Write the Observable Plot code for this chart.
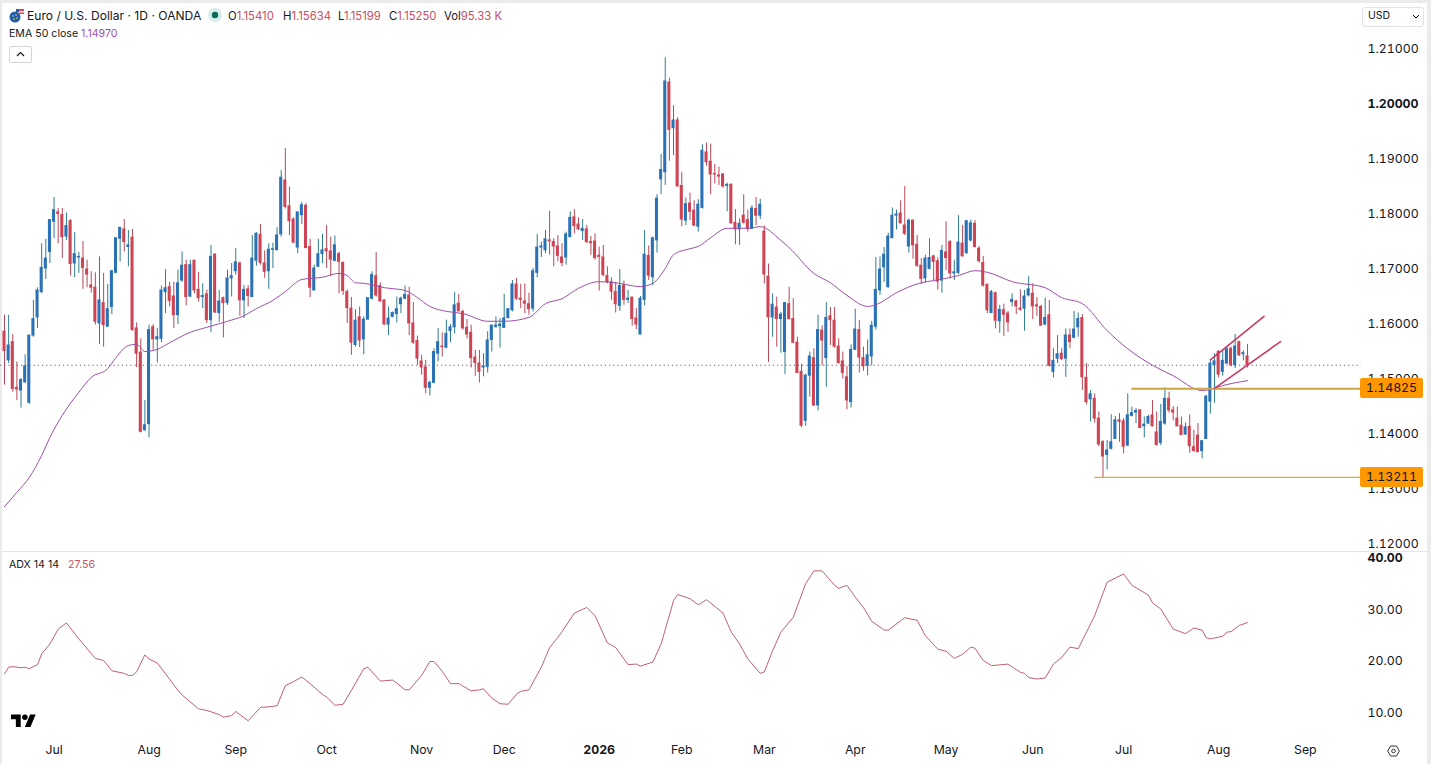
<!DOCTYPE html>
<html><head><meta charset="utf-8">
<script src="https://cdn.jsdelivr.net/npm/d3@7"></script>
<script src="https://cdn.jsdelivr.net/npm/@observablehq/plot@0.6"></script>
<style>
html,body{margin:0;padding:0;background:#ebebeb;width:1431px;height:764px;overflow:hidden;font-family:Inter,"Liberation Sans",sans-serif;color:#131722}
#sheet{position:absolute;left:2px;top:3px;width:1425px;height:761px;background:#fff}
#top,#bottom{position:absolute;left:0}
#top{top:0}#bottom{top:551px}
svg{display:block}
.t{position:absolute;white-space:nowrap;line-height:1}
.r{color:#c8505f}
.badge{position:absolute;left:1360px;width:63px;height:20px;background:#ff9800;border-radius:2px;color:#131722;font-size:12.3px;font-variant-numeric:tabular-nums;line-height:20px;text-align:center}
#sep{position:absolute;left:2px;top:551px;width:1425px;height:1px;background:#e0e3eb}
</style></head><body>
<div id="sheet"></div>
<div id="top"></div><div id="bottom"></div><div id="sep"></div>

<svg style="position:absolute;left:9px;top:8px" width="15" height="15" viewBox="0 0 15 15"><circle cx="6" cy="9" r="5.5" fill="#1f5fa8"/><circle cx="4" cy="8" r=".8" fill="#ffd24a"/><circle cx="7" cy="7" r=".8" fill="#ffd24a"/><circle cx="8" cy="10" r=".8" fill="#ffd24a"/><circle cx="5" cy="11" r=".8" fill="#ffd24a"/><rect x="9" y="1" width="6" height="2" fill="#d8485a"/><rect x="9" y="3" width="6" height="1.5" fill="#e8e8f0"/><rect x="9" y="4.5" width="6" height="1.5" fill="#d8485a"/><rect x="7" y="1" width="3" height="3" fill="#2a5aa8"/></svg>
<div class="t" style="left:27px;top:10px;font-size:12.1px">Euro / U.S. Dollar · 1D · OANDA</div>
<svg style="position:absolute;left:208px;top:8px" width="14" height="14"><circle cx="7" cy="7" r="7" fill="#d5efe9"/><circle cx="7" cy="7" r="3.2" fill="#0b6b5a"/></svg>
<div class="t" style="left:228px;top:11px;font-size:11.3px">O<span class="r">1.15410</span></div>
<div class="t" style="left:283px;top:11px;font-size:11.3px">H<span class="r">1.15634</span></div>
<div class="t" style="left:338px;top:11px;font-size:11.3px">L<span class="r">1.15199</span></div>
<div class="t" style="left:389px;top:11px;font-size:11.3px">C<span class="r">1.15250</span></div>
<div class="t" style="left:444px;top:11px;font-size:11.3px">Vol<span class="r">95.33 K</span></div>
<div class="t" style="left:9px;top:29px;font-size:10.6px">EMA 50 close</div>
<div class="t" style="left:81px;top:29px;font-size:10.6px;color:#9c4fb0">1.14970</div>
<div style="position:absolute;left:9px;top:46px;width:21px;height:15px;border:1px solid #d1d4dc;border-radius:2px"></div>
<svg style="position:absolute;left:16px;top:51px" width="9" height="6"><path d="M1 5 L4.5 1.5 L8 5" fill="none" stroke="#131722" stroke-width="1.2"/></svg>
<div style="position:absolute;left:1362px;top:7px;width:60px;height:18px;border:1px solid #e0e3eb;border-radius:3px"></div>
<div class="t" style="left:1368px;top:11px;font-size:10.5px">USD</div>
<svg style="position:absolute;left:1412px;top:14px" width="8" height="6"><path d="M1 1 L4 4 L7 1" fill="none" stroke="#131722" stroke-width="1"/></svg>
<div class="t" style="left:9px;top:560px;font-size:10.6px">ADX 14 14</div>
<div class="t" style="left:68px;top:560px;font-size:10.6px;color:#c8505f">27.56</div>
<svg style="position:absolute;left:11px;top:713px" width="25" height="14" viewBox="0 0 36 20"><path d="M14 20H7V9H0V2h14v18zM28 20h-8l7.5-18h8L28 20z" fill="#000"/><circle cx="20" cy="6" r="4" fill="#000"/></svg>
<svg style="position:absolute;left:1387px;top:745px" width="13" height="12" viewBox="0 0 13 12"><path d="M3.5 1H9.5L12.3 6L9.5 11H3.5L.7 6Z" fill="none" stroke="#333" stroke-width="1"/><circle cx="6.5" cy="6" r="1.8" fill="none" stroke="#333"/></svg>

<script>
const opens=[1.1586,1.1534,1.1567,1.1484,1.1479,1.1494,1.1457,1.1579,1.1612,1.1658,
1.1701,1.1731,1.1786,1.1803,1.1798,1.1759,1.1787,1.1710,1.1721,1.1719,
1.1699,1.1670,1.1666,1.1601,1.1638,1.1595,1.1631,1.1693,1.1755,1.1772,
1.1740,1.1757,1.1592,1.1548,1.1407,1.1418,1.1594,1.1572,1.1573,1.1658,
1.1667,1.1650,1.1616,1.1679,1.1707,1.1650,1.1715,1.1662,1.1649,1.1654,
1.1607,1.1726,1.1620,1.1647,1.1638,1.1683,1.1696,1.1710,1.1643,1.1663,
1.1649,1.1715,1.1762,1.1710,1.1696,1.1735,1.1734,1.1763,1.1861,1.1814,
1.1790,1.1739,1.1798,1.1815,1.1740,1.1661,1.1704,1.1727,1.1736,1.1732,
1.1715,1.1727,1.1711,1.1658,1.1628,1.1562,1.1612,1.1572,1.1608,1.1646,
1.1687,1.1669,1.1643,1.1599,1.1613,1.1618,1.1636,1.1646,1.1652,1.1601,
1.1569,1.1532,1.1521,1.1484,1.1493,1.1546,1.1559,1.1557,1.1587,1.1594,
1.1637,1.1622,1.1593,1.1584,1.1539,1.1528,1.1521,1.1522,1.1571,1.1595,
1.1596,1.1593,1.1611,1.1625,1.1672,1.1646,1.1641,1.1636,1.1628,1.1693,
1.1739,1.1734,1.1752,1.1749,1.1741,1.1721,1.1721,1.1758,1.1794,1.1781,
1.1769,1.1772,1.1749,1.1750,1.1724,1.1721,1.1687,1.1676,1.1658,1.1633,
1.1670,1.1644,1.1648,1.1610,1.1581,1.1644,1.1724,1.1685,1.1752,1.1863,
1.1876,1.2039,1.1956,1.1970,1.1851,1.1788,1.1819,1.1806,1.1777,1.1811,
1.1912,1.1895,1.1873,1.1870,1.1872,1.1851,1.1853,1.1784,1.1772,1.1797,
1.1789,1.1773,1.1809,1.1797,1.1768,1.1686,1.1612,1.1630,1.1609,1.1549,
1.1636,1.1609,1.1566,1.1513,1.1424,1.1506,1.1538,1.1452,1.1588,1.1538,
1.1614,1.1606,1.1559,1.1532,1.1503,1.1458,1.1553,1.1589,1.1538,1.1524,
1.1541,1.1595,1.1661,1.1703,1.1667,1.1756,1.1797,1.1801,1.1779,1.1741,
1.1788,1.1744,1.1706,1.1683,1.1700,1.1723,1.1714,1.1679,1.1730,1.1749,
1.1692,1.1693,1.1746,1.1729,1.1752,1.1782,1.1737,1.1711,1.1671,1.1620,
1.1656,1.1605,1.1625,1.1619,1.1640,1.1641,1.1628,1.1628,1.1652,1.1655,
1.1634,1.1631,1.1599,1.1616,1.1513,1.1537,1.1546,1.1537,1.1579,1.1575,
1.1594,1.1611,1.1502,1.1463,1.1464,1.1428,1.1385,1.1362,1.1373,1.1391,
1.1425,1.1423,1.1379,1.1433,1.1439,1.1443,1.1414,1.1419,1.1434,1.1403,
1.1384,1.1419,1.1464,1.1443,1.1428,1.1415,1.1399,1.1413,1.1376,1.1397,
1.1369,1.1391,1.1459,1.1525,1.1549,1.1513,1.1528,1.1555,1.1525,1.1567,1.1545,1.1541];
const closes=[1.1551,1.1561,1.1482,1.1481,1.1498,1.1523,1.1579,1.1609,1.1661,1.1702,
1.1719,1.1789,1.1807,1.1800,1.1758,1.1778,1.1709,1.1727,1.1722,1.1702,
1.1690,1.1666,1.1604,1.1643,1.1598,1.1627,1.1696,1.1756,1.1775,1.1749,
1.1743,1.1589,1.1546,1.1404,1.1416,1.1589,1.1572,1.1576,1.1661,1.1665,
1.1642,1.1616,1.1674,1.1706,1.1649,1.1707,1.1661,1.1647,1.1651,1.1607,
1.1722,1.1621,1.1641,1.1638,1.1683,1.1687,1.1712,1.1643,1.1662,1.1651,
1.1719,1.1764,1.1711,1.1695,1.1735,1.1736,1.1761,1.1866,1.1813,1.1787,
1.1748,1.1803,1.1816,1.1738,1.1666,1.1701,1.1727,1.1734,1.1732,1.1717,
1.1743,1.1713,1.1660,1.1629,1.1566,1.1606,1.1570,1.1608,1.1647,1.1689,
1.1652,1.1641,1.1599,1.1610,1.1620,1.1627,1.1646,1.1653,1.1601,1.1566,
1.1537,1.1521,1.1484,1.1493,1.1549,1.1567,1.1558,1.1582,1.1594,1.1634,
1.1623,1.1592,1.1581,1.1538,1.1529,1.1513,1.1523,1.1570,1.1597,1.1597,
1.1599,1.1610,1.1627,1.1672,1.1646,1.1644,1.1637,1.1627,1.1696,1.1739,
1.1741,1.1754,1.1750,1.1741,1.1724,1.1711,1.1763,1.1793,1.1778,1.1772,
1.1773,1.1749,1.1747,1.1720,1.1722,1.1689,1.1676,1.1659,1.1636,1.1669,
1.1644,1.1646,1.1609,1.1599,1.1646,1.1726,1.1688,1.1756,1.1828,1.1880,
1.2041,1.1953,1.1970,1.1850,1.1790,1.1818,1.1804,1.1779,1.1817,1.1915,
1.1894,1.1872,1.1872,1.1868,1.1850,1.1853,1.1783,1.1772,1.1782,1.1784,
1.1773,1.1810,1.1797,1.1817,1.1690,1.1612,1.1635,1.1609,1.1617,1.1638,
1.1609,1.1566,1.1511,1.1415,1.1506,1.1541,1.1452,1.1589,1.1570,1.1611,
1.1607,1.1559,1.1529,1.1511,1.1461,1.1553,1.1590,1.1539,1.1523,1.1543,
1.1597,1.1662,1.1699,1.1726,1.1759,1.1797,1.1799,1.1783,1.1764,1.1788,
1.1743,1.1706,1.1682,1.1719,1.1720,1.1713,1.1677,1.1733,1.1720,1.1692,
1.1694,1.1748,1.1723,1.1787,1.1783,1.1740,1.1714,1.1670,1.1625,1.1658,
1.1606,1.1626,1.1617,1.1603,1.1644,1.1632,1.1626,1.1650,1.1663,1.1632,
1.1632,1.1597,1.1611,1.1524,1.1533,1.1545,1.1536,1.1579,1.1567,1.1590,
1.1609,1.1503,1.1458,1.1472,1.1428,1.1381,1.1359,1.1370,1.1385,1.1425,
1.1422,1.1377,1.1434,1.1438,1.1442,1.1411,1.1417,1.1431,1.1414,1.1380,
1.1422,1.1464,1.1443,1.1439,1.1414,1.1398,1.1412,1.1378,1.1369,1.1367,
1.1387,1.1468,1.1528,1.1532,1.1508,1.1533,1.1554,1.1525,1.1559,1.1543,1.1547,1.1525];
const highs=[1.1616,1.1616,1.1581,1.1531,1.1501,1.1544,1.1579,1.1643,1.1666,1.1746,
1.1754,1.1789,1.1830,1.1810,1.1810,1.1802,1.1790,1.1766,1.1730,1.1750,
1.1716,1.1695,1.1693,1.1722,1.1692,1.1672,1.1696,1.1756,1.1775,1.1790,
1.1770,1.1772,1.1602,1.1573,1.1461,1.1598,1.1599,1.1592,1.1669,1.1699,
1.1676,1.1676,1.1698,1.1731,1.1716,1.1716,1.1716,1.1694,1.1673,1.1662,
1.1743,1.1728,1.1661,1.1649,1.1698,1.1710,1.1737,1.1713,1.1670,1.1670,
1.1761,1.1766,1.1781,1.1733,1.1746,1.1747,1.1775,1.1879,1.1919,1.1849,
1.1793,1.1803,1.1821,1.1819,1.1754,1.1707,1.1754,1.1763,1.1779,1.1758,
1.1760,1.1731,1.1713,1.1662,1.1648,1.1626,1.1631,1.1613,1.1647,1.1695,
1.1730,1.1675,1.1644,1.1631,1.1622,1.1649,1.1649,1.1669,1.1667,1.1639,
1.1578,1.1543,1.1534,1.1496,1.1555,1.1592,1.1584,1.1607,1.1599,1.1657,
1.1654,1.1625,1.1608,1.1598,1.1552,1.1552,1.1546,1.1586,1.1598,1.1613,
1.1610,1.1654,1.1628,1.1679,1.1683,1.1672,1.1673,1.1656,1.1701,1.1763,
1.1749,1.1770,1.1805,1.1755,1.1761,1.1746,1.1767,1.1804,1.1808,1.1793,
1.1790,1.1779,1.1759,1.1764,1.1740,1.1743,1.1704,1.1684,1.1676,1.1699,
1.1678,1.1661,1.1649,1.1628,1.1650,1.1770,1.1742,1.1758,1.1835,1.1908,
1.2084,1.2047,1.1997,1.1975,1.1876,1.1829,1.1838,1.1824,1.1826,1.1926,
1.1929,1.1927,1.1890,1.1885,1.1873,1.1856,1.1855,1.1808,1.1791,1.1835,
1.1807,1.1815,1.1830,1.1827,1.1778,1.1709,1.1655,1.1649,1.1621,1.1639,
1.1667,1.1646,1.1576,1.1527,1.1509,1.1549,1.1555,1.1616,1.1597,1.1639,
1.1630,1.1630,1.1573,1.1549,1.1523,1.1562,1.1627,1.1606,1.1558,1.1571,
1.1605,1.1721,1.1722,1.1739,1.1765,1.1811,1.1807,1.1824,1.1850,1.1791,
1.1789,1.1761,1.1719,1.1725,1.1755,1.1725,1.1720,1.1743,1.1786,1.1752,
1.1716,1.1797,1.1779,1.1788,1.1789,1.1788,1.1741,1.1723,1.1673,1.1661,
1.1658,1.1634,1.1636,1.1623,1.1655,1.1643,1.1662,1.1661,1.1686,1.1673,
1.1648,1.1634,1.1647,1.1643,1.1555,1.1579,1.1555,1.1591,1.1591,1.1623,
1.1620,1.1617,1.1528,1.1479,1.1473,1.1440,1.1388,1.1388,1.1435,1.1432,
1.1437,1.1428,1.1473,1.1449,1.1446,1.1444,1.1431,1.1434,1.1461,1.1440,
1.1454,1.1484,1.1476,1.1450,1.1449,1.1431,1.1420,1.1435,1.1407,1.1419,
1.1388,1.1470,1.1535,1.1546,1.1552,1.1552,1.1558,1.1558,1.1581,1.1569,1.1551,1.1563];
const lows=[1.1489,1.1528,1.1476,1.1461,1.1447,1.1492,1.1454,1.1576,1.1592,1.1655,
1.1681,1.1710,1.1755,1.1746,1.1719,1.1752,1.1687,1.1684,1.1692,1.1663,
1.1666,1.1656,1.1598,1.1563,1.1558,1.1595,1.1617,1.1693,1.1713,1.1731,
1.1704,1.1587,1.1521,1.1402,1.1405,1.1393,1.1552,1.1529,1.1566,1.1619,
1.1631,1.1592,1.1599,1.1676,1.1633,1.1648,1.1655,1.1640,1.1628,1.1601,
1.1584,1.1619,1.1603,1.1575,1.1634,1.1649,1.1689,1.1614,1.1610,1.1631,
1.1649,1.1705,1.1707,1.1683,1.1663,1.1701,1.1734,1.1758,1.1809,1.1761,
1.1746,1.1728,1.1781,1.1737,1.1648,1.1660,1.1703,1.1710,1.1701,1.1686,
1.1713,1.1655,1.1652,1.1601,1.1543,1.1558,1.1557,1.1544,1.1607,1.1644,
1.1649,1.1640,1.1598,1.1579,1.1611,1.1602,1.1619,1.1644,1.1579,1.1563,
1.1525,1.1507,1.1473,1.1469,1.1492,1.1531,1.1540,1.1555,1.1566,1.1582,
1.1622,1.1589,1.1573,1.1520,1.1505,1.1493,1.1504,1.1511,1.1549,1.1592,
1.1556,1.1592,1.1609,1.1622,1.1643,1.1628,1.1619,1.1616,1.1622,1.1684,
1.1721,1.1728,1.1725,1.1704,1.1713,1.1704,1.1707,1.1757,1.1764,1.1770,
1.1752,1.1746,1.1725,1.1716,1.1660,1.1686,1.1673,1.1643,1.1620,1.1623,
1.1634,1.1637,1.1596,1.1590,1.1580,1.1633,1.1679,1.1670,1.1729,1.1835,
1.1852,1.1896,1.1906,1.1850,1.1777,1.1779,1.1788,1.1777,1.1767,1.1809,
1.1887,1.1835,1.1855,1.1852,1.1847,1.1804,1.1782,1.1744,1.1743,1.1782,
1.1767,1.1772,1.1779,1.1790,1.1673,1.1530,1.1576,1.1558,1.1547,1.1508,
1.1607,1.1564,1.1510,1.1412,1.1414,1.1467,1.1450,1.1442,1.1524,1.1485,
1.1561,1.1556,1.1527,1.1500,1.1444,1.1447,1.1552,1.1511,1.1514,1.1506,
1.1524,1.1589,1.1652,1.1676,1.1665,1.1756,1.1771,1.1782,1.1761,1.1729,
1.1718,1.1703,1.1672,1.1675,1.1699,1.1679,1.1662,1.1656,1.1697,1.1682,
1.1679,1.1690,1.1722,1.1726,1.1749,1.1738,1.1711,1.1667,1.1619,1.1619,
1.1591,1.1583,1.1577,1.1585,1.1631,1.1617,1.1623,1.1587,1.1649,1.1608,
1.1614,1.1596,1.1597,1.1522,1.1502,1.1528,1.1534,1.1503,1.1555,1.1573,
1.1576,1.1479,1.1453,1.1422,1.1420,1.1377,1.1321,1.1335,1.1371,1.1390,
1.1385,1.1364,1.1377,1.1431,1.1419,1.1410,1.1393,1.1417,1.1413,1.1378,
1.1379,1.1416,1.1438,1.1424,1.1413,1.1398,1.1398,1.1365,1.1367,1.1366,
1.1355,1.1390,1.1436,1.1456,1.1502,1.1505,1.1527,1.1522,1.1519,1.1541,1.1533,1.1520];

const emaIdx=[0,3,6,9,11,14,18,21,25,27,30,32,34,37,40,45,49,54,58,61,65,68,72,77,81,83,85,87,92,97,100,103,107,111,117,121,127,131,135,139,144,148,154,157,160,162,166,168,171,175,180,183,188,190,196,200,204,209,211,216,222,225,231,235,238,244,252,256,261,267,272,278,283,290,292,295,301];
const emaVal=[1.1268,1.1294,1.1321,1.1361,1.1394,1.1434,1.1476,1.1503,1.1519,1.1539,1.1561,1.1563,1.1550,1.1554,1.1566,1.1585,1.1594,1.1605,1.1615,1.1628,1.1643,1.1659,1.1681,1.1685,1.1692,1.1688,1.1675,1.1674,1.1666,1.1661,1.1648,1.1632,1.1623,1.1619,1.1605,1.1605,1.1612,1.1637,1.1646,1.1665,1.1677,1.1675,1.1668,1.1674,1.1701,1.1726,1.1737,1.1741,1.1757,1.1774,1.1774,1.1777,1.1752,1.1739,1.1692,1.1675,1.1652,1.1632,1.1635,1.1657,1.1675,1.1679,1.1688,1.1697,1.1694,1.1677,1.1666,1.1648,1.1637,1.1588,1.1555,1.1525,1.1506,1.1479,1.1481,1.1488,1.1497];

const adxIdx=[0,1,2,4,5,6,8,9,11,13,15,18,22,24,26,29,30,31,32,34,35,37,39,42,43,47,49,52,53,55,56,59,62,64,66,68,70,72,74,77,78,80,82,84,87,88,91,94,97,98,101,103,104,106,108,110,113,115,116,118,120,122,124,125,127,130,132,134,135,138,141,143,146,148,151,153,154,157,159,162,163,166,168,170,174,176,178,180,183,184,186,188,191,194,196,198,201,202,204,206,208,210,213,214,218,221,223,226,228,230,232,234,235,237,239,243,246,247,248,250,252,254,256,258,260,264,267,269,271,273,277,278,280,283,286,288,290,291,292,295,296,297,299,301];
const adxVal=[17.6,18.9,19.0,18.8,18.9,18.6,19.4,21.5,23.4,26.3,27.5,24.4,20.6,20.2,18.2,17.7,17.3,17.3,18.0,21.3,20.5,19.7,17.6,14.4,13.5,10.8,10.5,9.7,9.2,9.5,10.3,8.5,11.1,11.2,11.4,15.3,16.1,17.0,15.7,13.6,13.1,11.5,11.7,14.4,18.6,18.9,16.2,16.4,14.5,14.5,17.3,20.0,20.0,18.1,15.7,15.7,14.3,14.5,14.7,12.9,11.8,11.7,13.7,14.2,14.5,18.9,22.7,24.7,25.8,29.4,30.5,28.9,23.6,22.7,19.4,19.5,19.1,19.9,23.4,31.8,33.0,32.2,31.0,32.0,29.4,25.7,23.4,20.5,17.7,18.0,22.1,25.7,28.6,35.1,37.6,37.6,34.8,34.2,34.8,32.5,30.5,27.8,26.1,26.1,28.5,28.0,25.0,22.4,22.0,20.6,21.4,22.8,22.6,20.2,19.2,19.5,17.9,17.7,16.9,16.6,16.8,19.5,20.8,22.8,22.5,28.9,35.4,36.2,37.0,34.8,32.9,31.4,30.2,26.3,25.4,26.5,26.1,24.6,24.4,24.9,25.7,25.8,27.0,27.56];

const priceTicks=[1.21,1.19,1.18,1.17,1.16,1.15,1.14,1.13,1.12];
const priceBold=[1.20];
const adxTicks=[10,20,30];
const adxBold=[40];
const monthAt=[12,35,56,78,101,121,164,184,206,228,249,271,294,315];
const monthNames=["Jul","Aug","Sep","Oct","Nov","Dec","Feb","Mar","Apr","May","Jun","Jul","Aug","Sep"];
const yearAt=[144];
const yearName=["2026"];
const lastClose=1.1525;
const support=[{from:273,level:1.14825,w:2,c:"#c9a545"},{from:264,level:1.13211,w:1.4,c:"#e3a92f"}];
const supportEnd=328.6;
const channelUpper={i:[292,305],v:[1.1535,1.1614]};
const channelLower={i:[293,309],v:[1.1483,1.1568]};

const xDomain=[-0.97,328.6];
const FONT="Inter, 'Liberation Sans', sans-serif";
const idx=d3.range(opens.length);
const up=i=>closes[i]>=opens[i];
const BODY_UP="#2a72b5",BODY_DN="#cd4454",WICK_UP="#2d7d8e",WICK_DN="#b84857",EMA="#9c4fa8",ADX="#c0616d",CH="#c93a66";

const chart=Plot.plot({
  width:1431,height:551,marginTop:0,marginBottom:0,marginLeft:0,marginRight:70,
  style:{background:"transparent",fontFamily:FONT,fontSize:"12.3px",color:"#131722"},
  x:{domain:xDomain,axis:null},
  y:{domain:[1.11864,1.21882],axis:null},
  marks:[
    Plot.ruleY([lastClose],{stroke:"#7a5560",strokeDasharray:"1.2,3",strokeWidth:1}),
    Plot.ruleX(idx,{x:i=>i,y1:i=>lows[i],y2:i=>highs[i],stroke:i=>up(i)?WICK_UP:WICK_DN,strokeWidth:1}),
    Plot.rect(idx,{x1:i=>i-0.37,x2:i=>i+0.37,y1:i=>opens[i],y2:i=>closes[i],fill:i=>up(i)?BODY_UP:BODY_DN,insetTop:-0.5,insetBottom:-0.5}),
    Plot.line(d3.range(emaIdx.length),{x:k=>emaIdx[k],y:k=>emaVal[k],stroke:EMA,strokeWidth:1,curve:"monotone-x"}),
    Plot.ruleY(support,{y:"level",x1:"from",x2:()=>supportEnd,stroke:"c",strokeWidth:"w"}),
    Plot.line([0,1],{x:k=>channelUpper.i[k],y:k=>channelUpper.v[k],stroke:CH,strokeWidth:1.6}),
    Plot.line([0,1],{x:k=>channelLower.i[k],y:k=>channelLower.v[k],stroke:CH,strokeWidth:1.6}),
    Plot.axisY({anchor:"right",ticks:priceTicks,tickSize:0,tickPadding:6,label:null,tickFormat:d=>d.toFixed(5),fill:"#131722"}),
    Plot.axisY({anchor:"right",ticks:priceBold,tickSize:0,tickPadding:6,label:null,tickFormat:d=>d.toFixed(5),fill:"#131722",fontWeight:700})
  ]
});
document.getElementById("top").append(chart);

const panel=Plot.plot({
  width:1431,height:213,marginTop:0,marginBottom:28,marginLeft:0,marginRight:70,
  style:{background:"transparent",fontFamily:FONT,fontSize:"12.3px",color:"#131722"},
  x:{domain:xDomain,axis:null},
  y:{domain:[5.44,41.36],axis:null},
  marks:[
    Plot.line(d3.range(adxIdx.length),{x:k=>adxIdx[k],y:k=>adxVal[k],stroke:ADX,strokeWidth:1}),
    Plot.axisY({anchor:"right",ticks:adxTicks,tickSize:0,tickPadding:6,label:null,tickFormat:d=>d.toFixed(2),fill:"#131722"}),
    Plot.axisY({anchor:"right",ticks:adxBold,tickSize:0,tickPadding:6,label:null,tickFormat:d=>d.toFixed(2),fill:"#131722",fontWeight:700}),
    Plot.axisX({ticks:monthAt,tickSize:0,tickPadding:9,label:null,tickFormat:d=>monthNames[monthAt.indexOf(d)],fill:"#131722"}),
    Plot.axisX({ticks:yearAt,tickSize:0,tickPadding:9,label:null,tickFormat:()=>yearName[0],fill:"#131722",fontWeight:700})
  ]
});
document.getElementById("bottom").append(panel);

for(const s of support){
  const b=document.createElement("div");
  b.className="badge";
  b.textContent=s.level.toFixed(5);
  b.style.top=(chart.scale("y").apply(s.level)-10)+"px";
  document.body.append(b);
}
</script>
</body></html>
